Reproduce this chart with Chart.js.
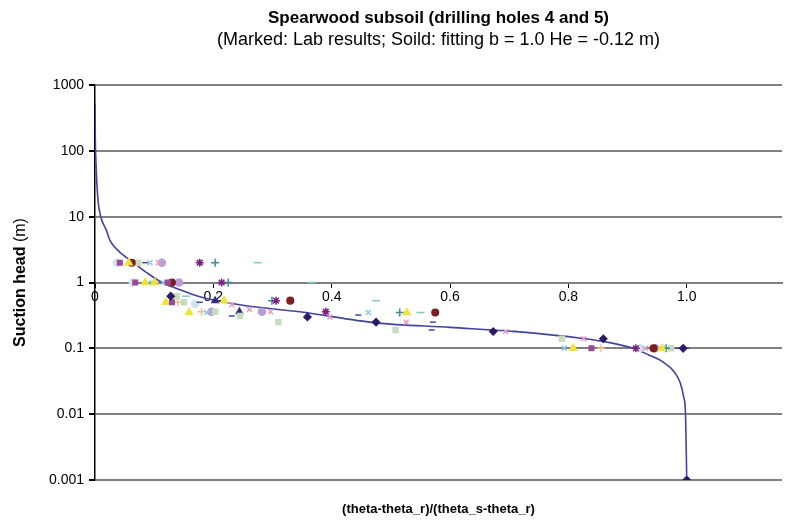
<!DOCTYPE html>
<html lang="en">
<head>
<meta charset="UTF-8">
<title>Spearwood subsoil</title>
<script src="https://cdn.jsdelivr.net/npm/chart.js"></script>
<style>
    html, body { margin: 0; padding: 0; background: #fff; }
    #wrap { width: 795px; height: 525px; }
</style>
</head>
<body>
<div id="wrap"><canvas id="grafico"></canvas></div>
<script>
    // fitted curve
    const curveX = [0, 0.0005, 0.0017, 0.0046, 0.01, 0.019, 0.025, 0.04, 0.064, 0.088, 0.113, 0.14, 0.177, 0.25, 0.346, 0.475, 0.6, 0.718, 0.825, 0.87, 0.909, 0.935, 0.96, 0.978, 0.989, 0.995, 0.998, 1.0];
    const curveH = [530, 162, 65, 20, 9.8, 6.3, 4.4, 3.0, 2.04, 1.4, 1.0, 0.8, 0.607, 0.45, 0.359, 0.244, 0.208, 0.178, 0.141, 0.122, 0.1, 0.08, 0.062, 0.045, 0.03, 0.018, 0.01, 0.001];

    // lab results, [x, suction head]
    const diamondPts = [[0.128, 0.62], [0.359, 0.30], [0.475, 0.25], [0.673, 0.18], [0.859, 0.14], [0.994, 0.1], [1.0, 0.001]];
    const squarePts = [[0.042, 2], [0.068, 1], [0.123, 1], [0.13, 0.5], [0.839, 0.1]];
    const trianglePts = [[0.057, 2], [0.085, 1], [0.101, 1], [0.12, 0.5], [0.159, 0.35], [0.218, 0.53], [0.527, 0.35], [0.808, 0.1], [0.958, 0.1]];
    const xPts = [[0.093, 2], [0.096, 1], [0.115, 1], [0.189, 0.35], [0.462, 0.35], [0.793, 0.1], [0.96, 0.1], [1.0, 0.001]];
    const starPts = [[0.177, 2], [0.214, 1], [0.306, 0.53], [0.39, 0.36], [0.914, 0.1]];
    const circlePts = [[0.062, 2], [0.13, 1], [0.33, 0.53], [0.575, 0.35], [0.944, 0.1]];
    const plusPts = [[0.203, 2], [0.225, 1], [0.299, 0.53], [0.515, 0.35], [0.965, 0.1]];
    const dashPts = [[0.085, 2], [0.177, 0.5], [0.231, 0.31], [0.445, 0.32], [0.571, 0.25], [0.569, 0.19], [0.71, 0.18], [0.986, 0.1], [1.0, 0.1]];
    const cyanDashPts = [[0.275, 2], [0.366, 1], [0.154, 0.62], [0.475, 0.53], [0.55, 0.35]];
    const greenSquarePts = [[0.073, 2], [0.138, 0.62], [0.15, 0.5], [0.203, 0.36], [0.245, 0.31], [0.31, 0.25], [0.508, 0.19], [0.789, 0.14], [0.973, 0.1], [1.0, 0.001]];
    const pinkXPts = [[0.107, 2], [0.231, 0.46], [0.261, 0.39], [0.297, 0.36], [0.397, 0.30], [0.526, 0.25], [0.694, 0.18], [0.826, 0.14], [0.93, 0.1]];
    const lavenderPts = [[0.113, 2], [0.142, 1], [0.197, 0.36], [0.282, 0.36], [0.947, 0.1]];
    const paleCirclePts = [[0.037, 2], [0.064, 1], [0.169, 0.47], [0.921, 0.1]];
    const orangePlusPts = [[0.14, 0.5], [0.18, 0.36], [0.855, 0.1]];
    const navyTrianglePts = [[0.203, 0.53], [0.244, 0.36]];

    const xTickVals = [0, 0.2, 0.4, 0.6, 0.8, 1.0];
    const xTickLabels = ['0', '0.2', '0.4', '0.6', '0.8', '1.0'];
    const yTickVals = [0.001, 0.01, 0.1, 1, 10, 100, 1000];
    const yTickLabels = ['0.001', '0.01', '0.1', '1', '10', '100', '1000'];

    const titulo = 'Spearwood subsoil (drilling holes 4 and 5)';
    const subtitulo = '(Marked: Lab results; Soild: fitting b = 1.0 He = -0.12 m)';
    const tituloX = '(theta-theta_r)/(theta_s-theta_r)';

    const fonte = '"Liberation Sans", Arial, sans-serif';

    function pts(arr) {
        return arr.map(p => ({ x: p[0], y: p[1] }));
    }

    function serie(arr, style, color, radius, fill) {
        return {
            data: pts(arr),
            pointStyle: style,
            pointRadius: radius || 3.5,
            pointBackgroundColor: fill === false ? 'transparent' : color,
            pointBorderColor: color,
            pointBorderWidth: 1.5,
            showLine: false
        };
    }

    const datasets = [
        serie(diamondPts, 'rectRot', '#2c1a66', 3.5),
        serie(squarePts, 'rect', '#9c4a98', 3.2),
        serie(trianglePts, 'triangle', '#eee33a', 4),
        serie(xPts, 'crossRot', '#8ccbe6', 3.5, false),
        serie(starPts, 'star', '#7d2180', 4, false),
        serie(circlePts, 'circle', '#7c1f24', 3.3),
        serie(plusPts, 'cross', '#3f8a8a', 4, false),
        serie(dashPts, 'line', '#4646a6', 3, false),
        serie(cyanDashPts, 'line', '#7fc8c8', 4, false),
        serie(greenSquarePts, 'rect', '#c6dcbe', 3.5),
        serie(pinkXPts, 'crossRot', '#e69ec4', 3.5, false),
        serie(lavenderPts, 'circle', '#b79fd6', 3.5),
        serie(paleCirclePts, 'circle', '#cde3ef', 3.5),
        serie(orangePlusPts, 'cross', '#f3bf8a', 4, false),
        serie(navyTrianglePts, 'triangle', '#3a2a86', 3.5),
        {
            data: curveX.map((x, i) => ({ x: x, y: curveH[i] })),
            showLine: true,
            borderColor: '#4343a0',
            borderWidth: 1.6,
            pointRadius: 0,
            cubicInterpolationMode: 'monotone',
            fill: false
        }
    ];

    const textos = {
        id: 'textos',
        afterDraw(chart) {
            const { ctx, chartArea } = chart;
            const cx = (chartArea.left + chartArea.right) / 2;
            ctx.save();
            ctx.fillStyle = '#000';
            ctx.textAlign = 'center';
            ctx.textBaseline = 'middle';
            ctx.font = 'bold 17px ' + fonte;
            ctx.fillText(titulo, cx, 18);
            ctx.font = '18px ' + fonte;
            ctx.fillText(subtitulo, cx, 40);
            ctx.font = 'bold 13px ' + fonte;
            ctx.fillText(tituloX, cx, 509);

            // y title: bold part + normal part
            const cy = (chartArea.top + chartArea.bottom) / 2;
            ctx.translate(21, cy);
            ctx.rotate(-Math.PI / 2);
            ctx.font = 'bold 16px ' + fonte;
            const a = 'Suction head';
            const wa = ctx.measureText(a + ' ').width;
            ctx.font = '16px ' + fonte;
            const b = '(m)';
            const wb = ctx.measureText(b).width;
            const x0 = -(wa + wb) / 2;
            ctx.textAlign = 'left';
            ctx.font = 'bold 16px ' + fonte;
            ctx.fillText(a, x0, 0);
            ctx.font = '16px ' + fonte;
            ctx.fillText(b, x0 + wa, 0);
            ctx.restore();
        }
    };

    new Chart(document.getElementById('grafico'), {
        type: 'scatter',
        data: { datasets: datasets },
        options: {
            responsive: true,
            maintainAspectRatio: false,
            animation: false,
            layout: { padding: { top: 85, right: 13, bottom: 45, left: 0 } },
            plugins: {
                legend: { display: false },
                tooltip: { enabled: false }
            },
            scales: {
                x: {
                    type: 'linear',
                    position: { y: 1 },
                    min: 0,
                    max: 1.161,
                    afterBuildTicks: s => { s.ticks = xTickVals.map(v => ({ value: v })); },
                    ticks: {
                        color: '#000',
                        font: { size: 14, family: fonte },
                        padding: 2,
                        maxRotation: 0,
                        autoSkip: false,
                        callback: (v, i) => xTickLabels[i]
                    },
                    grid: {
                        drawOnChartArea: false,
                        drawTicks: true,
                        tickLength: 4,
                        tickColor: '#000'
                    },
                    border: { color: '#808080', width: 2 }
                },
                y: {
                    type: 'logarithmic',
                    min: 0.001,
                    max: 1000,
                    afterBuildTicks: s => { s.ticks = yTickVals.map(v => ({ value: v })); },
                    afterFit: s => { s.width = 95; },
                    ticks: {
                        color: '#000',
                        font: { size: 14, family: fonte },
                        padding: 5,
                        autoSkip: false,
                        callback: (v, i) => yTickLabels[i]
                    },
                    grid: {
                        color: '#808080',
                        lineWidth: 2,
                        tickColor: '#000',
                        tickLength: 6
                    },
                    border: { color: '#000', width: 1.5 }
                }
            }
        },
        plugins: [textos]
    });
</script>
</body>
</html>
